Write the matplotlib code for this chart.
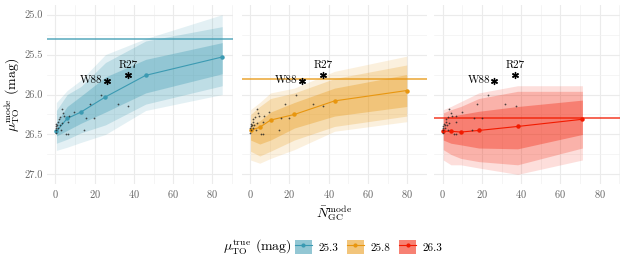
import matplotlib
matplotlib.use("Agg")
import matplotlib.pyplot as plt
from matplotlib.patches import Patch
from matplotlib.lines import Line2D
import numpy as np

plt.rcParams['font.family'] = 'serif'
plt.rcParams['font.serif'] = ['cmr10']
plt.rcParams['mathtext.fontset'] = 'cm'
plt.rcParams['axes.formatter.use_mathtext'] = True

# true distance moduli and colours
mu_true = [25.3, 25.8, 26.3]
colors = ['#3B9AB2', '#E8960F', '#F21A00']

# simulated medians and bands per panel (N, median, 68/95/99 bands)
n_sim = [
    [0.5, 6.0, 13.0, 25.5, 46.0, 85.0],
    [0.2, 4.9, 10.4, 22.5, 43.0, 79.8],
    [0.3, 4.2, 9.2, 18.4, 38.2, 71.2],
]
med = [
    [26.46, 26.30, 26.22, 26.03, 25.76, 25.53],
    [26.45, 26.41, 26.32, 26.25, 26.08, 25.95],
    [26.46, 26.46, 26.47, 26.45, 26.40, 26.31],
]
in_lo = [
    [26.35, 26.15, 26.02, 25.78, 25.56, 25.35],
    [26.38, 26.33, 26.22, 26.10, 25.92, 25.75],
    [26.30, 26.27, 26.25, 26.21, 26.15, 26.07],
]
in_hi = [
    [26.52, 26.45, 26.36, 26.22, 25.98, 25.74],
    [26.57, 26.62, 26.57, 26.42, 26.27, 26.15],
    [26.57, 26.61, 26.63, 26.67, 26.68, 26.50],
]
mid_lo = [
    [26.20, 26.00, 25.90, 25.60, 25.33, 25.15],
    [26.25, 26.15, 26.05, 25.98, 25.80, 25.63],
    [26.23, 26.19, 26.15, 26.05, 25.96, 25.96],
]
mid_hi = [
    [26.61, 26.56, 26.48, 26.38, 26.12, 25.89],
    [26.71, 26.77, 26.71, 26.57, 26.40, 26.27],
    [26.69, 26.75, 26.80, 26.84, 26.88, 26.67],
]
out_lo = [
    [26.10, 25.95, 25.82, 25.50, 25.30, 25.00],
    [26.19, 26.10, 25.98, 25.92, 25.71, 25.52],
    [26.19, 26.15, 26.09, 25.98, 25.89, 25.89],
]
out_hi = [
    [26.70, 26.66, 26.60, 26.50, 26.20, 26.00],
    [26.82, 26.86, 26.80, 26.69, 26.46, 26.34],
    [26.82, 26.88, 26.88, 26.92, 27.00, 26.82],
]

# observed galaxies
n_obs = [0.1, 0.2, 0.1, 0.4, 1.0, 1.5, 1.6, 2.2, 3.3, 2.8, 3.3, 4.1, 4.6, 7.0,
         6.6, 9.7, 5.6, 6.6, 14.8, 15.8, 17.7, 19.9, 23.2, 31.8, 37.2, 0.5, 1.2, 2.5]
mu_obs = [26.42, 26.45, 26.48, 26.40, 26.38, 26.34, 26.31, 26.38, 26.36, 26.45,
          26.18, 26.23, 26.27, 26.27, 26.35, 26.22, 26.50, 26.49, 26.45, 26.30,
          26.12, 26.30, 26.01, 26.12, 26.14, 26.37, 26.42, 26.28]

# named galaxies
star_names = ['W88', 'R27']
star_n = [26.2, 37.1]
star_mu = [25.825, 25.75]

fig = plt.figure(figsize=(6.23, 2.67), dpi=100)
lefts = [0.0754, 0.388, 0.697]
axs = [fig.add_axes([l, 0.311, 0.298, 0.670]) for l in lefts]

for i, ax in enumerate(axs):
    c = colors[i]
    x = n_sim[i]
    ax.fill_between(x, out_lo[i], out_hi[i], color=c, alpha=0.14, lw=0)
    ax.fill_between(x, mid_lo[i], mid_hi[i], color=c, alpha=0.22, lw=0)
    ax.fill_between(x, in_lo[i], in_hi[i], color=c, alpha=0.33, lw=0)
    ax.axhline(mu_true[i], color=c, lw=1.1, alpha=0.85)
    ax.plot(x, med[i], color=c, lw=0.8, marker='o', ms=2.2)
    ax.scatter(n_obs, mu_obs, s=1.6, color='#222222', alpha=0.8, lw=0, zorder=4)
    ax.scatter(star_n, star_mu, marker=(6, 2, 0), s=18, color='black', lw=1.0, zorder=5)
    ax.text(star_n[0] - 2.0, star_mu[0], star_names[0], ha='right', va='center', fontsize=8)
    ax.text(star_n[1], star_mu[1] - 0.06, star_names[1], ha='center', va='bottom', fontsize=8)

    ax.set_xlim(-4.3, 90.3)
    ax.set_ylim(27.12, 24.88)
    ax.set_xticks([0, 20, 40, 60, 80])
    ax.set_xticks([10, 30, 50, 70, 90], minor=True)
    ax.set_yticks([25.0, 25.5, 26.0, 26.5, 27.0])
    ax.set_yticks([25.25, 25.75, 26.25, 26.75], minor=True)
    ax.grid(which='major', color='#EBEBEB', lw=0.8)
    ax.grid(which='minor', color='#F2F2F2', lw=0.5)
    ax.set_axisbelow(True)
    for s in ax.spines.values():
        s.set_visible(False)
    ax.tick_params(which='both', length=0, labelsize=7.5, labelcolor='#666666', pad=3)
    ax.set_yticklabels(['25.0', '25.5', '26.0', '26.5', '27.0'])
    if i > 0:
        ax.set_yticklabels([])

axs[0].set_ylabel(r'$\mu_{\rm TO}^{\rm mode}$ (mag)', fontsize=10, labelpad=2)
axs[1].set_xlabel(r'$\bar{N}_{\rm GC}^{\rm mode}$', fontsize=10, labelpad=2)

handles = [(Patch(facecolor=c, alpha=0.55, lw=0),
            Line2D([], [], color=c, lw=0.8, marker='o', ms=2)) for c in colors]
labels = [str(m) for m in mu_true]
fig.text(292 / 623, 1 - 247 / 267, r'$\mu_{\rm TO}^{\rm true}$ (mag)', ha='right', va='center', fontsize=10)
fig.legend(handles, labels, loc='center left', bbox_to_anchor=(295 / 623, 1 - 247 / 267),
           ncol=3, frameon=False, fontsize=8, handlelength=1.5, handleheight=1.5,
           columnspacing=0.8, handletextpad=0.6, borderaxespad=0, borderpad=0)

fig.savefig('out.png', dpi=100)
